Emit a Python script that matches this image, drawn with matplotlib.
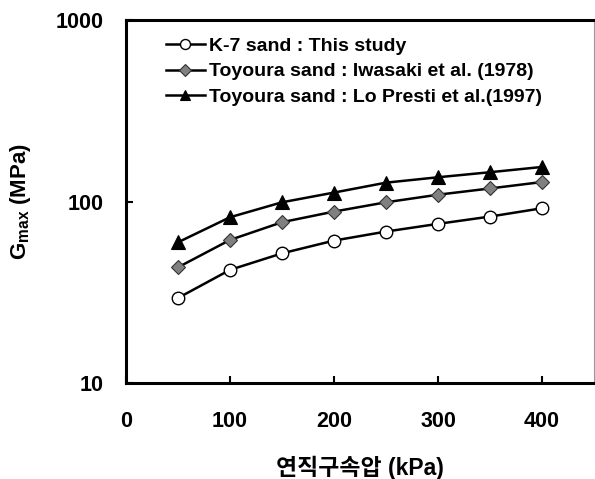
import matplotlib
matplotlib.use("Agg")
from matplotlib import pyplot as plt
import numpy as np

plt.rcParams["font.family"] = ["Liberation Sans", "Noto Sans CJK KR"]
plt.rcParams["font.weight"] = "bold"
plt.rcParams["mathtext.fontset"] = "custom"
plt.rcParams["mathtext.rm"] = "Liberation Sans:bold"
plt.rcParams["mathtext.bf"] = "Liberation Sans:bold"

# data
pressure = [50, 100, 150, 200, 250, 300, 350, 400]
k7_sand = [29.4, 42.0, 51.8, 60.9, 68.3, 75.3, 82.6, 91.8]
iwasaki = [43.4, 61.4, 76.9, 88.0, 99.0, 109.0, 118.0, 128.0]
lo_presti = [59.6, 81.9, 99.0, 112.0, 127.0, 136.0, 145.0, 155.0]
labels = [
    "K-7 sand : This study",
    "Toyoura sand : Iwasaki et al. (1978)",
    "Toyoura sand : Lo Presti et al.(1997)",
]
x_ticks = [0, 100, 200, 300, 400]
y_ticks = [10, 100, 1000]

W, H = 595, 479
fig = plt.figure(figsize=(W / 100, H / 100), dpi=100)
ax = fig.add_axes([126 / W, 1 - 383 / H, 468 / W, 363 / H])

ax.plot(pressure, k7_sand, color="black", lw=1.8, marker="o", ms=9,
        mfc="white", mec="black", mew=1.0, label=labels[0])
ax.plot(pressure, iwasaki, color="black", lw=1.8, marker="D", ms=7.5,
        mfc="#808080", mec="#333333", mew=0.8, label=labels[1])
ax.plot(pressure, lo_presti, color="black", lw=1.8, marker="^", ms=9.5,
        mfc="black", mec="black", mew=0.8, label=labels[2])

ax.set_yscale("log")
ax.set_xlim(0, 450)
ax.set_ylim(10, 1000)
ax.set_xticks(x_ticks)
ax.set_xticklabels([str(v) for v in x_ticks])
ax.set_yticks(y_ticks)
ax.set_yticklabels([str(v) for v in y_ticks])
ax.yaxis.set_minor_locator(matplotlib.ticker.NullLocator())

ax.tick_params(axis="x", direction="in", length=5, width=1.5, pad=20, labelsize=15.5)
ax.tick_params(axis="y", direction="in", length=5, width=1.5, pad=16, labelsize=15.5)
for side in ["left", "bottom", "top"]:
    ax.spines[side].set_linewidth(2.2)
ax.spines["right"].set_linewidth(0.8)
ax.spines["right"].set_color("#999999")

ax.set_xlabel("연직구속압 (kPa)", fontsize=16.5, fontweight="bold")
ax.xaxis.set_label_coords(0.5, (383 - 456) / 363)
ax.set_ylabel(r"G$_{\mathrm{max}}$ (MPa)", fontsize=16, fontweight="bold")
ax.yaxis.set_label_coords((33 - 126) / 468, 0.5)

leg = ax.legend(loc="upper left", bbox_to_anchor=(166 / W, 1 - 37 / H),
                bbox_transform=fig.transFigure, frameon=False,
                prop={"weight": "bold", "size": 14},
                handlelength=2.0, handletextpad=0.2, labelspacing=0.42,
                borderpad=0, borderaxespad=0, markerscale=0.8)

fig.savefig("out.png", dpi=100)
